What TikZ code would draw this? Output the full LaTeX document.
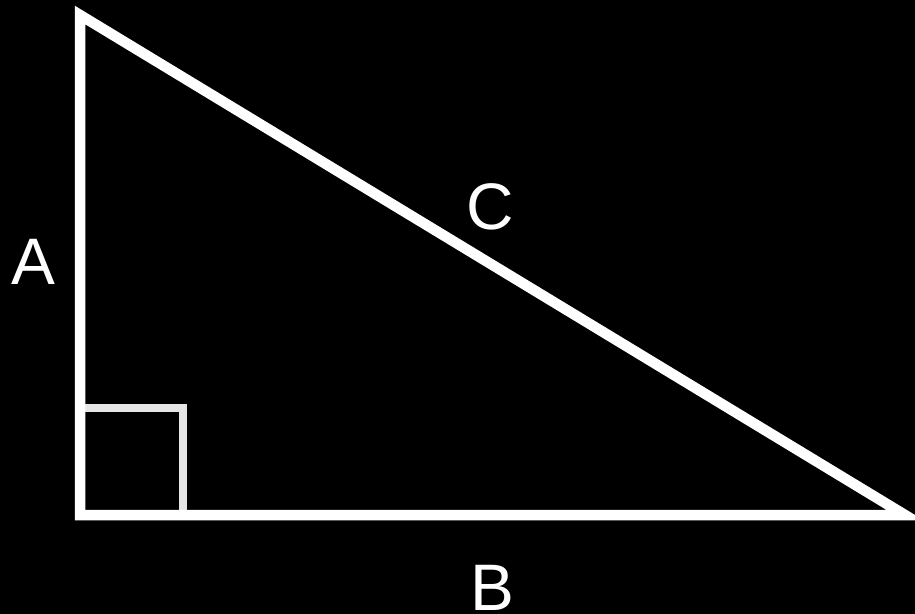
\documentclass[tikz,border=0pt]{standalone}
\usepackage{fontspec}
\setmainfont{Liberation Sans}
\usepackage{tikz}

\begin{document}
\begin{tikzpicture}[x=1bp, y=-1bp]
    \tikzset{side/.style={line width=10.5bp, white, line join=miter},
             lbl/.style={white, inner sep=0pt, font=\fontsize{66}{80}\selectfont}}
    \fill[black] (0,0) rectangle (915,614);
    \useasboundingbox (0,0) rectangle (915,614);
    \draw[line width=7.5bp, black!10] (80,408) -- (183,408) -- (183,515);
    \draw[side] (80,15) -- (80,515) -- (905,515) -- cycle;
    \node[lbl] (sa) at (33,262) {A};
    \node[lbl] (sb) at (492,588) {B};
    \node[lbl] (sc) at (490,207) {C};
  \end{tikzpicture}
\end{document}
